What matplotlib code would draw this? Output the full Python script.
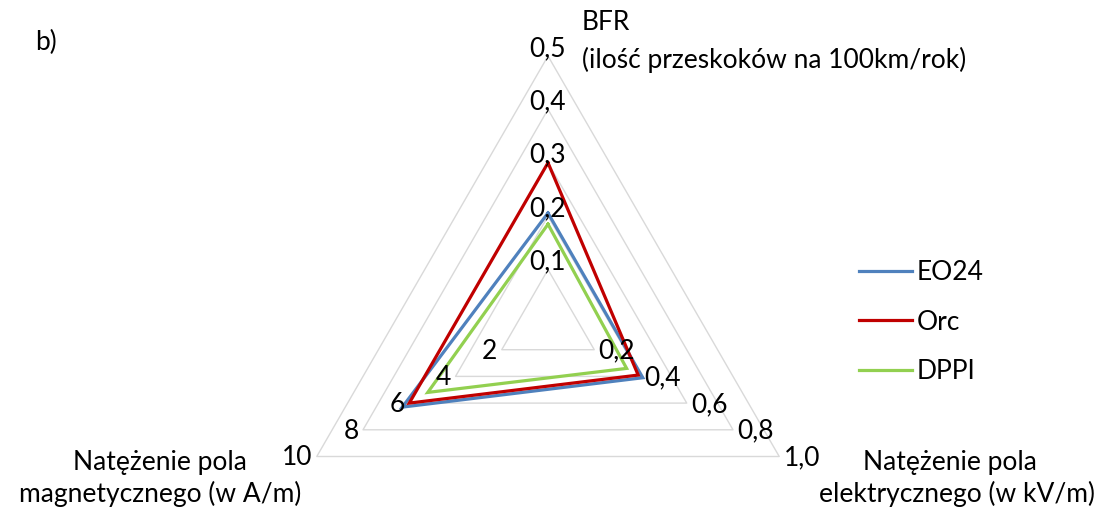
import matplotlib
matplotlib.use('Agg')
import matplotlib.pyplot as plt
import numpy as np

plt.rcParams['font.family'] = ['Lato', 'DejaVu Sans']

# dane
axis_names = ['BFR', 'E', 'H']
axis_max = [0.5, 1.0, 10.0]
series_names = ['EO24', 'Orc', 'DPPI']
eo24 = [0.206, 0.41, 6.3]
orc = [0.30, 0.39, 6.0]
dppi = [0.185, 0.34, 5.2]
top_ticks = ['0,1', '0,2', '0,3', '0,4', '0,5']
right_ticks = ['0,2', '0,4', '0,6', '0,8', '1,0']
left_ticks = ['2', '4', '6', '8', '10']
levels = [0.2, 0.4, 0.6, 0.8, 1.0]

colors = ['#4F81BD', '#C00000', '#92D050']
FS = 19

W, H = 1094, 516
fig = plt.figure(figsize=(W / 100, H / 100), dpi=100)

cx, cy, R = 548, 323, 267
ax = fig.add_axes([(cx - R) / W, (H - cy - R) / H, 2 * R / W, 2 * R / H],
                  projection='polar')
ax.set_theta_offset(np.pi / 2)
ax.set_theta_direction(-1)
ax.set_ylim(0, 1)
ax.grid(False)
ax.set_xticks([])
ax.set_yticks([])
ax.spines['polar'].set_visible(False)
ax.patch.set_visible(False)

theta = np.linspace(0, 2 * np.pi, len(axis_names), endpoint=False)
theta_c = np.append(theta, theta[0])

# siatka
for lv in levels:
    ax.plot(theta_c, [lv] * (len(theta) + 1), color='#D9D9D9', lw=1.0,
            clip_on=False, zorder=1)

# serie
for name, vals, c in zip(series_names, [eo24, orc, dppi], colors):
    r = np.array(vals) / np.array(axis_max)
    ax.plot(theta_c, np.append(r, r[0]), color=c, lw=2.3, label=name,
            clip_on=False, zorder=3, solid_joinstyle='miter')

# etykiety osi
for lv, lab in zip(levels, top_ticks):
    ax.annotate(lab, (theta[0], lv), xytext=(0, 0), textcoords='offset points',
                ha='center', va='baseline', fontsize=FS, zorder=4)
for lv, lab in zip(levels, right_ticks):
    ax.annotate(lab, (theta[1], lv), xytext=(3, -1), textcoords='offset points',
                ha='left', va='center', fontsize=FS, zorder=4)
for lv, lab in zip(levels, left_ticks):
    ax.annotate(lab, (theta[2], lv), xytext=(-3, -1), textcoords='offset points',
                ha='right', va='center', fontsize=FS, zorder=4)

fig.text(35 / W, 1 - 42 / H, 'b)', fontsize=FS, ha='left', va='center')
fig.text(582 / W, 1 - 10 / H, 'BFR\n(ilość przeskoków na 100km/rok)',
         fontsize=FS, ha='left', va='top', linespacing=1.55)
# tytuły osi dolnych
fig.text(160 / W, 1 - 470 / H, 'Natężenie pola', fontsize=FS,
         ha='center', va='baseline')
fig.text(160 / W, 1 - 502 / H, 'magnetycznego (w A/m)', fontsize=FS,
         ha='center', va='baseline')
fig.text(950 / W, 1 - 470 / H, 'Natężenie pola', fontsize=FS,
         ha='center', va='baseline')
fig.text(957 / W, 1 - 502 / H, 'elektrycznego (w kV/m)', fontsize=FS,
         ha='center', va='baseline')

fig.legend(loc='center left', bbox_to_anchor=(835 / W, 1 - 322 / H),
           frameon=False, fontsize=FS, handlelength=2.0, handletextpad=0.2,
           labelspacing=0.93)

fig.savefig('out.png', dpi=100)
plt.close()
